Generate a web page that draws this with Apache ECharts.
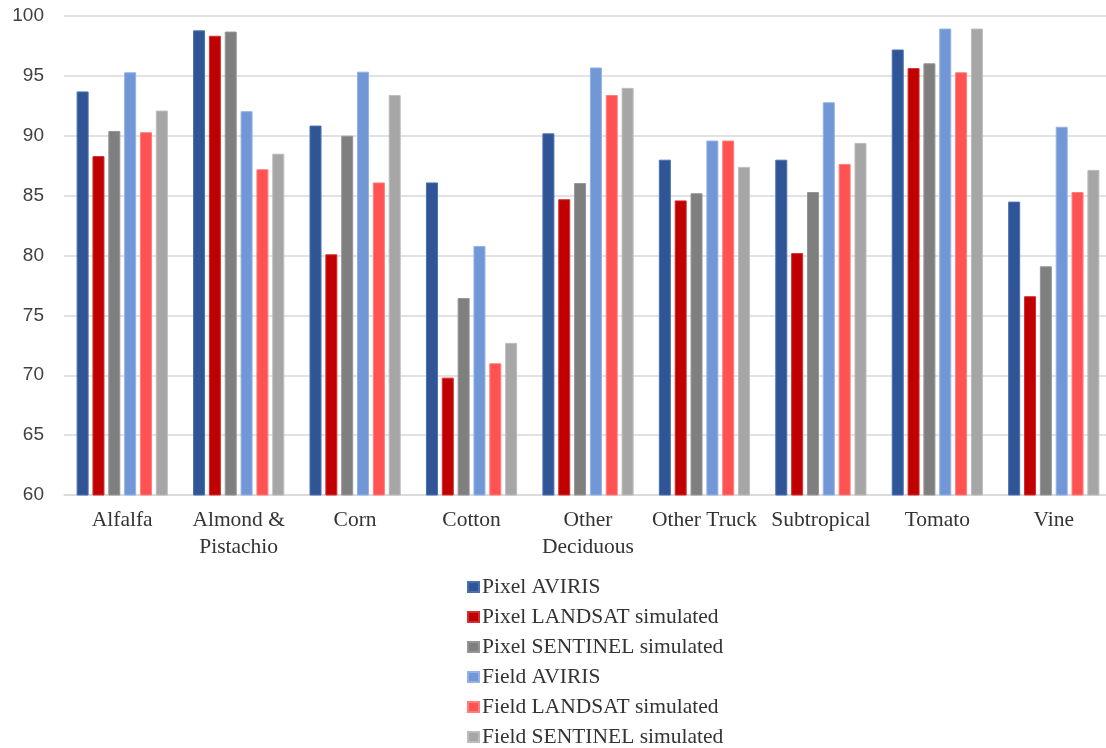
<!DOCTYPE html>
<html>
<head>
<meta charset="utf-8">
<script src="https://cdn.jsdelivr.net/npm/echarts@6/dist/echarts.min.js"></script>
<style>html,body{margin:0;padding:0;background:#fff;overflow:hidden;width:1106px;height:748px}#c{width:1112px;height:748px}</style>
</head>
<body>
<div id="c"></div>
<script>
const categories = ["Alfalfa","Almond &\nPistachio","Corn","Cotton","Other\nDeciduous","Other Truck","Subtropical","Tomato","Vine"];
const seriesNames = ["Pixel AVIRIS","Pixel LANDSAT simulated","Pixel SENTINEL simulated","Field AVIRIS","Field LANDSAT simulated","Field SENTINEL simulated"];
const pixelAviris   = [93.7, 98.8, 90.85, 86.1, 90.2, 88.0, 88.0, 97.2, 84.5];
const pixelLandsat  = [88.3, 98.35, 80.1, 69.8, 84.7, 84.6, 80.2, 95.65, 76.6];
const pixelSentinel = [90.4, 98.7, 90.0, 76.45, 86.05, 85.2, 85.3, 96.05, 79.1];
const fieldAviris   = [95.3, 92.05, 95.35, 80.8, 95.7, 89.6, 92.8, 98.95, 90.75];
const fieldLandsat  = [90.3, 87.2, 86.1, 71.0, 93.4, 89.6, 87.65, 95.3, 85.3];
const fieldSentinel = [92.1, 88.5, 93.4, 72.7, 94.0, 87.4, 89.4, 98.95, 87.15];
const yTicks = [60, 65, 70, 75, 80, 85, 90, 95, 100];

const colors = ["#2F5597","#C00000","#7F7F7F","#7297D6","#FF5252","#A6A6A6"];
const borders = ["#4a6fb0","#d23030","#959595","#93b1e4","#ff7d7d","#bcbcbc"];
const values = [pixelAviris,pixelLandsat,pixelSentinel,fieldAviris,fieldLandsat,fieldSentinel];

const chart = echarts.init(document.getElementById('c'));
chart.setOption({
  animation: false,
  backgroundColor: '#fff',
  grid: {left: 64, right: 0, top: 16, bottom: 253, containLabel: false},
  legend: {
    orient: 'vertical', left: 467, top: 576, padding: 0,
    itemWidth: 11, itemHeight: 10, itemGap: 8,
    icon: 'rect',
    textStyle: {fontFamily: 'Liberation Serif', fontSize: 21.5, color: '#333333', padding: [0,0,0,-2]},
    data: seriesNames
  },
  xAxis: {
    type: 'category', data: categories,
    axisLine: {lineStyle: {color: '#d9d9d9', width: 1.5}},
    axisTick: {show: false},
    axisLabel: {fontFamily: 'Liberation Serif', fontSize: 21.5, color: '#333333', margin: 12, lineHeight: 27, interval: 0}
  },
  yAxis: {
    type: 'value', min: yTicks[0], max: yTicks[yTicks.length-1], interval: 5,
    axisLine: {show: false}, axisTick: {show: false},
    splitLine: {lineStyle: {color: '#d9d9d9', width: 1.5}},
    axisLabel: {fontFamily: 'Liberation Sans', fontSize: 19, color: '#404040', margin: 20}
  },
  series: seriesNames.map((n,i) => ({
    name: n, type: 'bar', data: values[i],
    barWidth: 12, barGap: '32%',
    itemStyle: {color: colors[i], borderColor: borders[i], borderWidth: 1}
  }))
});
</script>
</body>
</html>
